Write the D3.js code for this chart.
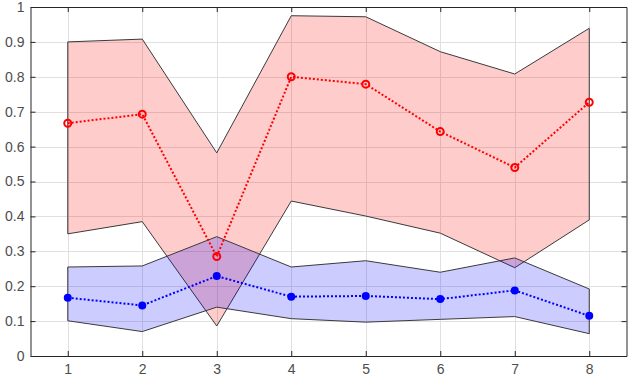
<!DOCTYPE html>
<html><head><meta charset="utf-8">
<script src="https://cdn.jsdelivr.net/npm/d3@7"></script>
<style>body{margin:0;background:#fff}svg{display:block}</style>
</head><body>
<svg id="c" width="629" height="378"></svg>
<script>
const xs = [1,2,3,4,5,6,7,8];
const redUpper = [0.900,0.908,0.582,0.975,0.972,0.872,0.808,0.939];
const redMean  = [0.667,0.693,0.285,0.800,0.779,0.643,0.540,0.727];
const redLower = [0.350,0.385,0.086,0.444,0.401,0.352,0.253,0.390];
const blueUpper = [0.255,0.258,0.342,0.255,0.273,0.240,0.281,0.192];
const blueMean  = [0.167,0.145,0.229,0.170,0.172,0.163,0.188,0.115];
const blueLower = [0.101,0.070,0.140,0.107,0.097,0.105,0.113,0.064];
const xTicks = [1,2,3,4,5,6,7,8];
const yTicks = [0,0.1,0.2,0.3,0.4,0.5,0.6,0.7,0.8,0.9,1];

const svg = d3.select("#c");
const L=30.5, R=626.5, T=7, B=356;
const x = d3.scaleLinear().domain([0.5,8.5]).range([L,R]);
const y = d3.scaleLinear().domain([0,1]).range([B,T]);
const axCol = "#262626";
const txtCol = "#4d4d4d";
const font = "Liberation Sans, Arial, Helvetica, sans-serif";

// grid
const g = svg.append("g");
g.selectAll(".gx").data(xTicks).join("line")
  .attr("x1",d=>Math.round(x(d))+0.5).attr("x2",d=>Math.round(x(d))+0.5)
  .attr("y1",T).attr("y2",B).attr("stroke","#e0e0e0").attr("stroke-width",1);
g.selectAll(".gy").data(yTicks).join("line")
  .attr("y1",d=>Math.round(y(d))+0.5).attr("y2",d=>Math.round(y(d))+0.5)
  .attr("x1",L).attr("x2",R).attr("stroke","#e0e0e0").attr("stroke-width",1);

function band(up, lo, fill){
  const pts = xs.map((v,i)=>[x(v),y(up[i])]).concat(xs.map((v,i)=>[x(v),y(lo[i])]).reverse());
  svg.append("path").attr("d", "M"+pts.map(p=>p.join(",")).join("L")+"Z")
    .attr("fill",fill).attr("stroke","#3a3a3a").attr("stroke-width",1);
}
band(redUpper, redLower, "rgba(255,0,0,0.2)");
band(blueUpper, blueLower, "rgba(0,0,255,0.2)");

const line = d3.line().x((d,i)=>x(xs[i])).y(d=>y(d));
svg.append("path").attr("d",line(redMean)).attr("fill","none")
  .attr("stroke","#ff0000").attr("stroke-width",2).attr("stroke-dasharray","2,2");
svg.selectAll(".rm").data(redMean).join("circle")
  .attr("cx",(d,i)=>x(xs[i])).attr("cy",d=>y(d)).attr("r",3.5)
  .attr("fill","none").attr("stroke","#ff0000").attr("stroke-width",2);
svg.append("path").attr("d",line(blueMean)).attr("fill","none")
  .attr("stroke","#0000ff").attr("stroke-width",2).attr("stroke-dasharray","2,2");
svg.selectAll(".bm").data(blueMean).join("circle")
  .attr("cx",(d,i)=>x(xs[i])).attr("cy",d=>y(d)).attr("r",4)
  .attr("fill","#0000ff");

// axes box with inward ticks
const xb = d3.axisBottom(x).tickValues(xTicks).tickSizeInner(-5).tickSizeOuter(0).tickPadding(8).tickFormat(d3.format("d"));
const xt = d3.axisTop(x).tickValues(xTicks).tickSizeInner(-5).tickSizeOuter(0).tickFormat("");
const yl = d3.axisLeft(y).tickValues(yTicks).tickSizeInner(-5).tickSizeOuter(0).tickPadding(6).tickFormat(d=>d===0?"0":d===1?"1":d3.format(".1f")(d));
const yr = d3.axisRight(y).tickValues(yTicks).tickSizeInner(-5).tickSizeOuter(0).tickFormat("");
function style(sel){
  sel.selectAll("path").attr("stroke",axCol).attr("stroke-width",1);
  sel.selectAll("line").attr("stroke",axCol);
  sel.selectAll("text").attr("fill",txtCol).attr("font-family",font).attr("font-size",14);
}
style(svg.append("g").attr("transform",`translate(0,${B})`).call(xb));
style(svg.append("g").attr("transform",`translate(0,${T})`).call(xt));
style(svg.append("g").attr("transform",`translate(${L},0)`).call(yl));
style(svg.append("g").attr("transform",`translate(${R},0)`).call(yr));
</script>
</body></html>
